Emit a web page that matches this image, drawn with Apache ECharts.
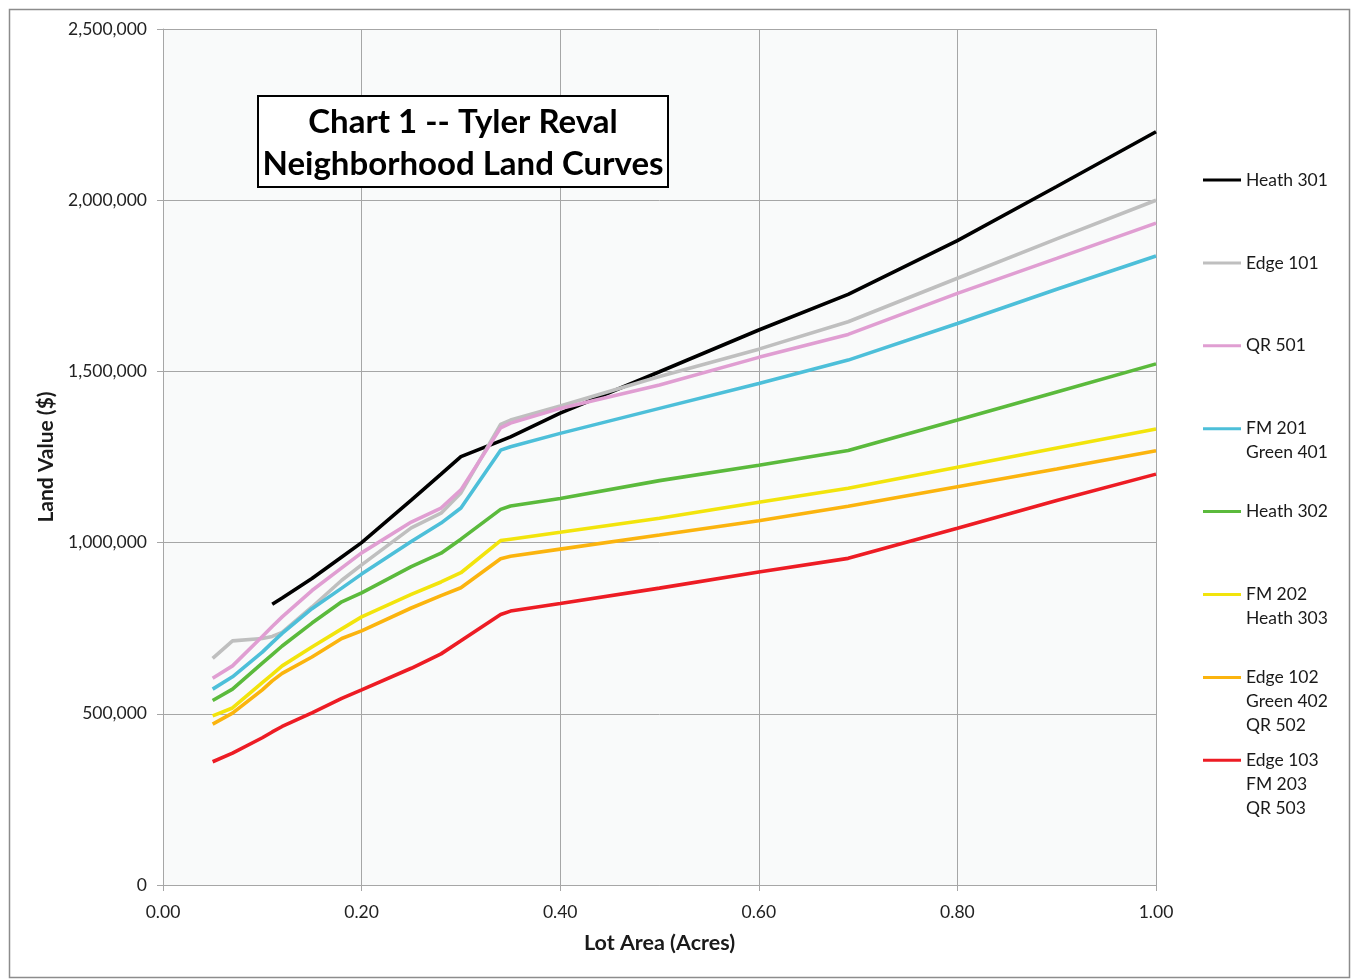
<!DOCTYPE html>
<html>
<head>
<meta charset="utf-8">
<script src="https://cdn.jsdelivr.net/npm/echarts@6/dist/echarts.min.js"></script>
<style>
html,body{margin:0;padding:0;background:#fff;}
#chart{width:1351px;height:979px;}
</style>
</head>
<body>
<div id="chart"></div>
<script>
// Lot area (acres)
const xValues = [0.05,0.07,0.10,0.11,0.12,0.15,0.18,0.20,0.25,0.28,0.30,0.34,0.35,0.40,0.50,0.60,0.69,0.80,0.90,1.00];

const heath301 = [null,null,null,820000,838000,895000,958000,1000000,1124000,1200000,1251000,1297000,1309000,1378000,1499000,1621000,1725000,1882000,2040000,2200000];
const edge101  = [662000,713000,720000,726000,738000,812000,890000,935000,1043000,1086000,1145000,1345000,1358000,1399000,1485000,1565000,1645000,1772000,1887000,2000000];
const qr501    = [604000,640000,726000,755000,783000,860000,926000,970000,1060000,1101000,1154000,1335000,1349000,1392000,1460000,1541000,1608000,1728000,1830000,1933000];
const fm201    = [572000,608000,680000,708000,735000,807000,867000,908000,1003000,1057000,1101000,1270000,1280000,1319000,1392000,1465000,1533000,1640000,1740000,1837000];
const heath302 = [539000,572000,648000,673000,698000,765000,827000,853000,930000,969000,1010000,1097000,1107000,1129000,1181000,1226000,1269000,1358000,1440000,1522000];
const fm202    = [494000,517000,591000,615000,640000,695000,748000,783000,849000,885000,912000,1006000,1010000,1030000,1071000,1118000,1159000,1220000,1276000,1332000];
const edge102  = [470000,502000,570000,596000,618000,666000,720000,742000,809000,845000,868000,953000,960000,981000,1022000,1064000,1106000,1163000,1215000,1268000];
const edge103  = [360000,385000,430000,447000,463000,503000,545000,570000,633000,675000,713000,790000,800000,822000,867000,914000,954000,1042000,1123000,1200000];

const seriesNames = ['Heath 301','Edge 101','QR 501','FM 201\nGreen 401','Heath 302','FM 202\nHeath 303','Edge 102\nGreen 402\nQR 502','Edge 103\nFM 203\nQR 503'];
const seriesValues = [heath301, edge101, qr501, fm201, heath302, fm202, edge102, edge103];
const seriesColors = ['#000000','#bfbfbf','#e09ed2','#4dbfd9','#5bba3c','#f2e40c','#fbb40e','#ed1c24'];

const titleLines = ['Chart 1 -- Tyler Reval','Neighborhood Land Curves'];
const yTicks = {min:0, max:2500000, interval:500000};
const xTicks = {min:0, max:1, interval:0.2};

const FONT = 'Lato, "Open Sans", sans-serif';
const LH = 24;

const chart = echarts.init(document.getElementById('chart'));

const series = seriesNames.map((name, i) => ({
  name: name,
  type: 'line',
  symbol: 'none',
  smooth: false,
  connectNulls: false,
  lineStyle: {width: 3.6, color: seriesColors[i]},
  itemStyle: {color: seriesColors[i]},
  data: xValues.map((x, j) => [x, seriesValues[i][j]]).filter(p => p[1] !== null)
}));

const legendIconY0 = 180, legendStep = 82.9;
const legends = seriesNames.map((name, i) => {
  const lines = name.split('\n').length;
  const H = (2 * lines - 1) * LH;
  return {
    data: [name],
    orient: 'vertical',
    left: 1203,
    top: legendIconY0 + i * legendStep - H / 2,
    padding: 0,
    itemGap: 0,
    icon: 'rect',
    itemWidth: 38,
    itemHeight: 3,
    selectedMode: false,
    // leading blank lines keep the icon level with the first line of the name
    formatter: n => '\n'.repeat(lines - 1) + n,
    textStyle: {fontFamily: FONT, fontSize: 17.5, color: '#1a1a1a', lineHeight: LH}
  };
});

const option = {
  backgroundColor: '#ffffff',
  animation: false,
  grid: {left: 163, top: 29, width: 993, height: 856, show: true, backgroundColor: '#f9fafa', borderWidth: 0, containLabel: false},
  xAxis: {
    type: 'value', min: xTicks.min, max: xTicks.max, interval: xTicks.interval,
    name: 'Lot Area (Acres)', nameLocation: 'middle', nameGap: 47,
    nameTextStyle: {fontFamily: FONT, fontSize: 21.5, fontWeight: 'bold', color: '#1a1a1a'},
    axisLine: {show: true, lineStyle: {color: '#a6a6a6', width: 1}},
    axisTick: {show: true, length: 6, lineStyle: {color: '#a6a6a6'}},
    axisLabel: {margin: 18, fontFamily: FONT, fontSize: 17.5, color: '#222', formatter: v => v.toFixed(2)},
    splitLine: {show: true, lineStyle: {color: '#a6a6a6', width: 1}}
  },
  yAxis: {
    type: 'value', min: yTicks.min, max: yTicks.max, interval: yTicks.interval,
    name: 'Land Value ($)', nameLocation: 'middle', nameGap: 106,
    nameTextStyle: {fontFamily: FONT, fontSize: 21, fontWeight: 'bold', color: '#1a1a1a'},
    axisLine: {show: true, lineStyle: {color: '#a6a6a6', width: 1}},
    axisTick: {show: true, length: 6, lineStyle: {color: '#a6a6a6'}},
    axisLabel: {margin: 16, fontFamily: FONT, fontSize: 17.5, color: '#222', formatter: v => v.toLocaleString('en-US')},
    splitLine: {show: true, lineStyle: {color: '#a6a6a6', width: 1}}
  },
  legend: legends,
  graphic: [
    {type: 'rect', left: 7, top: 7, z: -10, silent: true,
     shape: {x: 0, y: 0, width: 1340, height: 968}, style: {fill: 'none', stroke: '#8c8c8c', lineWidth: 1.5}},
    {type: 'rect', z: 100, silent: true,
     shape: {x: 258, y: 96, width: 410, height: 91}, style: {fill: '#ffffff', stroke: '#000000', lineWidth: 2}},
    {type: 'text', z: 101, silent: true, x: 463, y: 143,
     style: {text: titleLines.join('\n'), fontFamily: FONT, fontSize: 33, fontWeight: 'bold', fill: '#000', align: 'center', verticalAlign: 'middle', lineHeight: 42}}
  ],
  series: series
};
chart.setOption(option);
</script>
</body>
</html>
